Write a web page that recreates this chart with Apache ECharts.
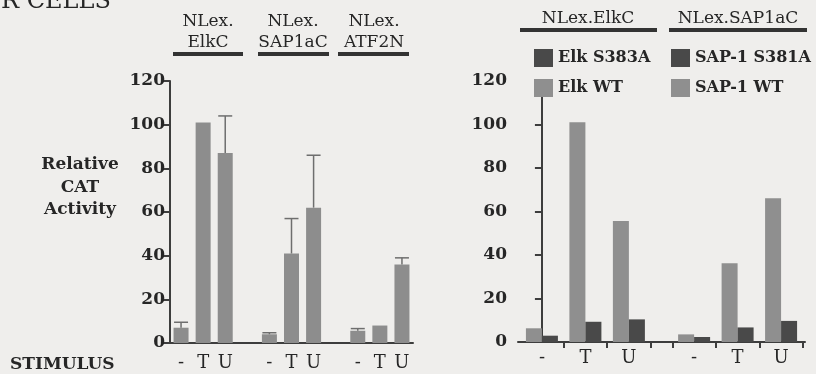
<!DOCTYPE html>
<html>
<head>
<meta charset="utf-8">
<script src="https://cdn.jsdelivr.net/npm/echarts@6/dist/echarts.min.js"></script>
<style>
html, body { margin: 0; padding: 0; background: #efeeec; }
#chart { width: 816px; height: 374px; }
</style>
</head>
<body>
<div id="chart"></div>
<script>
// left panel: three constructs, stimulus - / T / U (blank slots separate the groups)
var stimulusLabels = ['-', 'T', 'U', '', '-', 'T', 'U', '', '-', 'T', 'U'];
var relativeCat = [7, 101, 87, null, 4, 41, 62, null, 5.6, 8, 36];
var relativeCatErr = [9.5, null, 104, null, 4.7, 57, 86, null, 6.6, null, 39];

// right panel: WT vs mutant for each construct
var pairLabels = ['-', 'T', 'U'];
var elkWT = [6.3, 101, 55.6];
var elkS383A = [2.9, 9.3, 10.4];
var sapWT = [3.5, 36.2, 66.1];
var sapS381A = [2.3, 6.7, 9.7];

var yTicks = [0, 20, 40, 60, 80, 100, 120];

var myChart = echarts.init(document.getElementById('chart'));

var serif = '"DejaVu Serif", "Liberation Serif", serif';
var ink = '#262626';
var axisInk = '#3d3d3d';
var sapShift = 3.5; // SAP pairs sit after a half-slot gap

function pts(arr, shift) {
    return arr.map(function (v, i) { return [i + shift, v]; });
}

var errData = [];
for (var i = 0; i < relativeCat.length; i++) {
    if (relativeCatErr[i] != null) errData.push([i, relativeCat[i], relativeCatErr[i]]);
}

function yAxisFor(gridIndex, margin) {
    return {
        type: 'value',
        gridIndex: gridIndex,
        min: yTicks[0],
        max: yTicks[yTicks.length - 1],
        interval: yTicks[1] - yTicks[0],
        splitLine: {show: false},
        axisLine: {show: true, lineStyle: {color: axisInk, width: 2}},
        axisTick: {show: true, length: 7, lineStyle: {color: axisInk, width: 2}},
        axisLabel: {margin: margin, color: ink, fontFamily: serif, fontWeight: 'bold', fontSize: 17}
    };
}

function txt(s, x, y, size, weight, align) {
    return {
        type: 'text', x: x, y: y,
        style: {
            text: s, fill: ink, align: align || 'center', verticalAlign: 'middle',
            font: (weight || 'normal') + ' ' + size + 'px ' + serif
        }
    };
}

function bar(x, y, w) {
    return {type: 'rect', shape: {x: x, y: y, width: w, height: 4}, style: {fill: '#333'}};
}

var legendText = {color: ink, fontFamily: serif, fontWeight: 'bold', fontSize: 16};

var option = {
    backgroundColor: '#efeeec',
    animation: false,
    grid: [
        {left: 170, right: 403, top: 81, bottom: 31},
        {left: 518, right: 11, top: 81, bottom: 32}
    ],
    legend: [
        {
            data: ['Elk S383A', 'Elk WT'], orient: 'vertical', left: 529, top: 44,
            icon: 'rect', itemWidth: 19, itemHeight: 18, itemGap: 12,
            selectedMode: false, textStyle: legendText
        },
        {
            data: ['SAP-1 S381A', 'SAP-1 WT'], orient: 'vertical', left: 666, top: 44,
            icon: 'rect', itemWidth: 19, itemHeight: 18, itemGap: 12,
            selectedMode: false, textStyle: legendText
        }
    ],
    xAxis: [
        {
            type: 'category', gridIndex: 0, data: stimulusLabels,
            axisLine: {lineStyle: {color: axisInk, width: 2}},
            axisTick: {interval: 0, length: 5, lineStyle: {color: axisInk, width: 2}},
            axisLabel: {interval: 0, margin: 11, color: ink, fontFamily: serif, fontSize: 18}
        },
        {
            type: 'value', gridIndex: 1, min: -0.55, max: 6.05,
            splitLine: {show: false},
            axisLine: {show: true, lineStyle: {color: axisInk, width: 2}},
            axisTick: {show: true, length: 6, customValues: [0.5, 1.5, 2.5, 3, 4, 5, 6],
                lineStyle: {color: axisInk, width: 2}},
            axisLabel: {
                customValues: [0, 1, 2, 3.5, 4.5, 5.5], margin: 7,
                color: ink, fontFamily: serif, fontSize: 18,
                formatter: function (v) {
                    return v < sapShift ? pairLabels[Math.round(v)] : pairLabels[Math.round(v - sapShift)];
                }
            }
        },
        {type: 'value', gridIndex: 1, min: -0.55, max: 6.05, show: false}
    ],
    yAxis: [yAxisFor(0, 5), yAxisFor(1, 11)],
    graphic: [
        txt('R CELLS', 1, 2, 24, 'normal', 'left'),
        txt('NLex.', 208, 22, 17), txt('ElkC', 208, 43, 17), bar(173, 52, 70),
        txt('NLex.', 293, 22, 17), txt('SAP1aC', 293, 43, 17), bar(258, 52, 71),
        txt('NLex.', 374, 22, 17), txt('ATF2N', 374, 43, 17), bar(338, 52, 71),
        txt('NLex.ElkC', 588, 19, 17), bar(520, 28, 137),
        txt('NLex.SAP1aC', 738, 19, 17), bar(669, 28, 138),
        txt('Relative', 80, 165, 17, 'bold'),
        txt('CAT', 80, 188, 17, 'bold'),
        txt('Activity', 80, 210, 17, 'bold'),
        txt('STIMULUS', 10, 365, 17, 'bold', 'left')
    ],
    series: [
        {
            name: 'Relative CAT', type: 'bar', xAxisIndex: 0, yAxisIndex: 0,
            barWidth: 15,
            itemStyle: {color: '#8d8d8d'},
            data: relativeCat.map(function (v) { return v == null ? '-' : v; })
        },
        {
            name: 'error', type: 'custom', xAxisIndex: 0, yAxisIndex: 0, z: 5,
            data: errData,
            renderItem: function (params, api) {
                var x = api.value(0);
                var base = api.coord([x, api.value(1)]);
                var top = api.coord([x, api.value(2)]);
                var half = 7;
                var st = {stroke: '#6e6e6e', lineWidth: 1.5};
                return {
                    type: 'group',
                    children: [
                        {type: 'line', shape: {x1: base[0], y1: base[1], x2: top[0], y2: top[1]}, style: st},
                        {type: 'line', shape: {x1: top[0] - half, y1: top[1], x2: top[0] + half, y2: top[1]}, style: st}
                    ]
                };
            }
        },
        {
            name: 'Elk WT', type: 'bar', xAxisIndex: 1, yAxisIndex: 1,
            barWidth: 16, barGap: '0%', itemStyle: {color: '#8f8f8f'},
            data: pts(elkWT, 0)
        },
        {
            name: 'Elk S383A', type: 'bar', xAxisIndex: 1, yAxisIndex: 1,
            barWidth: 16, barGap: '0%', itemStyle: {color: '#494949'},
            data: pts(elkS383A, 0)
        },
        {
            name: 'SAP-1 WT', type: 'bar', xAxisIndex: 2, yAxisIndex: 1,
            barWidth: 16, barGap: '0%', itemStyle: {color: '#8f8f8f'},
            data: pts(sapWT, sapShift)
        },
        {
            name: 'SAP-1 S381A', type: 'bar', xAxisIndex: 2, yAxisIndex: 1,
            barWidth: 16, barGap: '0%', itemStyle: {color: '#494949'},
            data: pts(sapS381A, sapShift)
        }
    ]
};

myChart.setOption(option);
</script>
</body>
</html>
